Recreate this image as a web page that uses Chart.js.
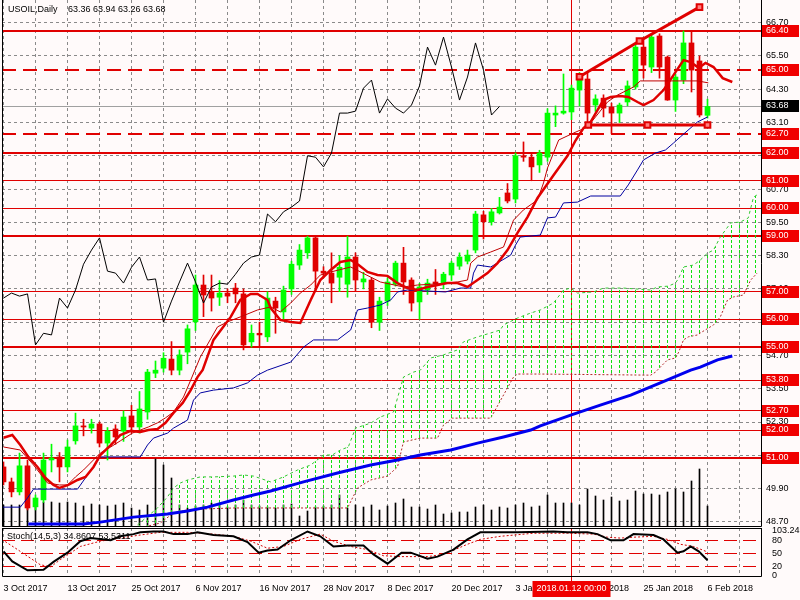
<!DOCTYPE html>
<html>
<head>
<meta charset="utf-8">
<script src="https://cdn.jsdelivr.net/npm/chart.js"></script>
<style>
  body { margin: 0; background: #fffafa; }
  #wrap { position: relative; width: 800px; height: 600px; background: #fffafa; overflow: hidden; }
  #main { position: absolute; left: 0; top: 0; }
  #osc { position: absolute; left: 0; top: 527px; }
</style>
</head>
<body>
<div id="wrap">
  <canvas id="main" width="800" height="527"></canvas>
  <canvas id="osc" width="800" height="73"></canvas>
</div>
<script>
// USOIL daily candles, bar 0 = 3 Oct 2017 ... bar 88 = 6 Feb 2018
const opens = [50.68,50.14,49.78,50.72,49.24,49.49,50.93,51.04,50.68,51.62,
  52.16,52.08,52.23,51.54,52.05,51.97,52.52,52.12,52.66,54.06,
  54.24,54.57,54.17,54.82,55.91,57.24,57.00,56.80,56.95,57.13,
  56.92,55.19,55.50,55.37,56.66,56.27,57.10,57.96,58.40,58.94,
  57.74,57.67,57.52,57.27,58.25,57.35,57.42,55.90,56.66,57.27,
  58.03,57.42,56.63,57.06,57.35,57.31,57.60,57.92,58.10,58.50,
  59.77,59.52,59.84,60.56,60.34,61.90,61.85,61.57,61.85,63.37,
  63.44,63.48,64.27,64.67,63.73,63.98,63.66,63.44,63.84,64.38,
  65.82,65.10,66.22,65.46,63.91,64.63,65.97,65.32,63.36];
const highs = [50.86,50.28,51.18,50.93,49.67,51.18,51.50,51.20,51.65,52.62,
  52.40,52.40,52.30,52.10,52.20,52.70,52.90,53.40,54.20,54.50,
  54.80,55.20,54.90,55.80,57.60,57.60,57.60,57.40,57.10,57.30,
  57.10,55.80,55.90,57.00,56.80,57.20,58.10,58.70,59.00,59.00,
  57.90,58.40,58.30,59.00,58.40,57.70,57.50,56.80,57.50,58.10,
  58.60,57.50,57.30,57.45,57.80,57.70,58.10,58.40,58.50,59.90,
  59.90,60.00,60.40,60.90,62.00,62.40,62.00,62.10,63.60,63.70,
  64.85,64.45,64.90,64.90,64.10,64.10,63.80,63.80,64.60,65.90,
  66.10,66.30,66.30,65.50,64.85,66.40,66.40,65.50,63.94];
const lows = [50.03,49.60,49.67,49.13,49.13,49.40,50.50,50.14,50.50,51.50,
  51.80,51.90,51.40,50.93,51.50,51.60,51.90,51.90,52.40,53.90,
  54.10,54.00,54.00,54.40,55.60,56.10,56.30,56.50,56.60,56.60,
  54.90,55.00,55.00,55.20,55.50,56.00,56.90,57.80,58.20,57.00,
  57.50,56.60,57.00,56.80,57.00,57.10,55.70,55.60,56.50,57.20,
  56.90,56.30,56.00,56.90,56.90,57.10,57.40,57.80,58.00,58.40,
  58.90,59.40,59.80,60.20,60.20,61.70,61.00,61.30,61.70,62.95,
  63.40,63.20,63.70,62.90,63.50,63.30,62.70,63.10,63.70,64.30,
  64.70,64.90,64.70,63.90,63.50,64.50,64.20,63.30,63.26];
const closes = [50.14,49.78,50.72,49.20,49.56,50.93,51.00,50.68,51.40,52.16,
  52.12,52.23,51.54,51.97,51.76,52.48,52.12,52.77,54.10,54.17,
  54.60,54.17,54.72,55.66,57.24,56.88,56.77,56.95,56.84,56.92,
  55.08,55.50,55.44,56.77,56.41,57.06,57.99,58.50,58.94,57.74,
  57.67,57.31,57.88,58.25,57.42,57.46,55.90,56.66,57.35,58.03,
  57.35,56.59,57.17,57.31,57.27,57.63,58.03,58.25,58.32,59.80,
  59.52,59.88,60.05,60.27,61.90,61.85,61.50,62.00,63.44,63.44,
  63.51,64.34,64.63,63.44,63.95,63.62,63.44,63.73,64.42,65.82,
  65.17,66.18,65.10,63.91,64.74,65.97,64.99,63.37,63.68];
// tick volume, arbitrary units
const volumes = [22,22,22,23,24,25,25,24,25,24,
  21,23,22,21,22,24,19,17,22,68,
  62,49,22,19,21,22,24,23,20,22,
  27,22,21,20,19,22,23,11,16,20,
  21,22,32,19,22,20,22,17,21,24,
  28,20,20,18,22,13,14,15,15,20,
  22,17,20,19,22,24,20,21,32,24,
  24,24,22,38,31,27,30,26,27,36,
  33,33,32,35,38,35,46,58,21];

// indicator lines, [bar, price]
const lips = [[0,51.73],[1.1,51.83],[2.1,51.47],[3.1,51.04],[4.25,50.68],[5.25,50.28],[6.25,50.03],[7,49.92],[8.1,50.03],[9.25,50.21],[10.25,50.32],[11.25,50.68],[12.1,51.11],[13.4,51.47],[14.6,51.83],[15.9,51.98],[17.1,51.94],[18.1,52.01],[19.25,52.05],[20.25,52.27],[21.25,52.63],[22.4,52.99],[23.4,53.45],[24.25,53.92],[24.9,54.18],[26.25,55.26],[28.4,56.09],[29.6,56.70],[30.9,56.92],[31.75,56.92],[33,56.70],[33.4,56.41],[34.6,55.98],[35.9,55.91],[37.1,55.87],[38.4,56.70],[39.6,57.42],[40.9,57.78],[42.1,58.07],[43.4,58.14],[44.4,57.96],[45.5,57.71],[46.75,57.60],[48,57.57],[49.25,57.31],[50.5,57.13],[51.75,57.06],[53,57.17],[54.25,57.24],[55.5,57.31],[56.75,57.31],[58,57.17],[59.25,57.42],[60.5,57.67],[61.75,58.03],[63,58.50],[64.25,59.12],[65.5,59.69],[66.75,60.38],[68.75,61.2],[70.5,61.9],[71.5,62.45],[72.5,62.90],[73.4,63.12],[74.25,63.55],[75,63.91],[75.9,64.02],[77.1,64.06],[78.1,64.02],[79.25,63.84],[80,63.73],[81.25,63.91],[82.5,64.27],[83.75,64.81],[85,65.35],[85.9,65.28],[86.9,65.07],[87.75,65.25],[88.75,65.10],[89.9,64.70],[91.1,64.56]];
const tenkan = [[0,51.4],[2.1,51.29],[3.75,50.75],[5.5,50.10],[7,50.03],[8,50.03],[9,50.32],[10,50.57],[12.1,51.18],[13.4,51.40],[14.6,51.62],[16.1,51.90],[17.1,52.01],[18.1,52.12],[19.25,52.27],[20.25,52.45],[21.25,52.66],[22.5,53.20],[23.4,53.81],[24.6,54.64],[26.75,55.73],[28,55.91],[29.6,56.09],[31.75,56.34],[33.4,56.45],[34.6,56.27],[35.9,56.59],[37.1,56.95],[38.4,57.24],[39.6,57.60],[40.9,57.71],[43.4,57.89],[47.1,57.35],[50,57.17],[51.75,57.24],[54.25,57.28],[56.75,57.35],[58,57.42],[58.4,58.03],[59.25,58.25],[60.9,58.43],[62.5,58.61],[63.75,59.58],[65,59.95],[66.75,60.31],[67.5,60.92],[68,61.46],[69.4,62.47],[71.25,62.72],[73,62.94],[75.5,63.84],[76.75,64.09],[78.75,64.38],[79.6,64.60],[86.75,64.60],[88.1,64.53]];
const kijun = [[-0.2,49.23],[2.1,49.23],[3,49.56],[3.75,49.88],[9.25,49.88],[12.1,51.04],[17.1,51.04],[18,51.47],[18.75,51.72],[20.5,51.90],[21.25,52.08],[23,52.37],[23.75,53.09],[24.6,53.35],[26.25,53.45],[28.75,53.53],[30.5,53.71],[31.75,53.99],[33,54.17],[35.9,54.46],[37.5,55.00],[38.75,55.26],[41.75,55.26],[43.4,55.62],[44.25,56.34],[45.5,56.41],[47.1,56.52],[48.4,56.70],[49.25,56.99],[50.5,57.06],[55.25,56.99],[57.1,57.13],[58.4,57.13],[58.75,57.67],[59.25,57.96],[60.9,57.89],[63.4,58.32],[64,58.68],[64.6,58.97],[67.1,59.04],[68,59.66],[69,59.69],[70,60.20],[71.75,60.23],[73.4,60.45],[77.1,60.45],[78.1,60.85],[79.25,61.39],[80,61.75],[81.5,62.0],[82.75,62.11],[83.75,62.36],[84.6,62.58],[86.75,63.12],[88,63.30]];
const spanA = [[16.75,48.59],[19.25,49.20],[20.5,49.60],[21.25,49.92],[22.1,50.10],[23,50.21],[24.6,50.32],[26.25,50.32],[28.75,50.35],[30,50.39],[31.25,50.35],[33.4,50.14],[35,50.32],[36.75,50.57],[38.4,50.75],[40,51.11],[41.1,51.11],[42.1,51.29],[43.1,51.40],[44,52.08],[45.9,52.26],[47.1,52.48],[48.75,52.66],[50,53.92],[51.25,54.10],[52.1,54.17],[53.4,54.61],[55,54.72],[56.75,54.90],[57.5,55.19],[59.25,55.37],[60.9,55.51],[62.1,55.62],[62.5,55.80],[64.25,56.05],[65.9,56.23],[67.1,56.34],[68.75,56.59],[70,57.06],[70.9,57.13],[71.75,56.95],[73.75,56.99],[75,57.13],[77.5,57.13],[80.9,57.06],[81.75,57.17],[83.1,57.20],[84,57.31],[84.4,57.49],[85,57.89],[86.25,57.96],[87.1,58.14],[88,58.39],[88.75,58.50],[89.6,58.97],[90.9,59.48],[92.1,59.51],[93.1,59.66],[93.75,60.41],[94.2,60.49]];
const spanB = [[16.75,48.45],[19.6,48.66],[21.25,49.02],[23,49.13],[24.6,49.16],[28.75,49.20],[43,49.20],[44.25,49.92],[45.9,50.21],[48,50.35],[49.25,50.68],[49.9,51.47],[50,51.58],[52.1,51.72],[54.25,51.72],[55,52.19],[56.1,52.44],[60.9,52.44],[63.75,53.92],[64.25,54.03],[67.1,54.03],[80.9,53.99],[81.5,54.10],[82.1,54.28],[83,54.54],[84,54.61],[84.4,54.82],[85,55.26],[85.6,55.37],[86.75,55.44],[87.1,55.51],[88.75,55.80],[89.6,56.09],[90.5,56.70],[91.25,56.81],[92.5,56.88],[93.4,57.42],[94.2,57.67]];
const slowMa = [[3.1,48.62],[10,48.62],[12.1,48.69],[16.25,48.87],[20.5,48.98],[23,49.09],[25.5,49.23],[28.75,49.49],[31.25,49.67],[33.4,49.81],[37.5,50.14],[41.75,50.46],[45.9,50.75],[49.25,50.93],[52.1,51.11],[55.9,51.29],[59.25,51.54],[62.5,51.76],[65.9,52.01],[67.1,52.16],[70.9,52.55],[74.6,52.91],[78.4,53.27],[82.1,53.71],[85.9,54.17],[87.1,54.28],[89.25,54.54],[91.1,54.68]];
const chikouShift = 26;

// drawn objects
const trendUp = [[72,64.75],[79.5,66.04],[87,67.26]];
const trendFlat = [[73.1,63.01],[80.5,63.01],[88,63.01]];
const levelsThick = [66.40, 62.00, 59.00, 55.00, 51.00];
const levelsThin = [61.00, 60.00, 57.00, 56.00, 53.80, 52.70, 52.00];
const levelsDash = [65.00, 62.70];
const lastPrice = 63.68;
const crossBar = 71;
const crossLabel = '2018.01.12 00:00';

// stochastic (14,5,3)
const stochMain = [[0,55],[1.1,32],[3,12],[5,13],[6.25,31],[8,52],[9.6,78],[10.9,85],[13.4,80],[14.6,89],[16.25,94],[17.1,98],[18.75,100],[20,100],[21.25,94],[23,94],[24.25,98],[26.25,92],[28.75,89],[30.5,76],[31.9,52],[33,57],[34.25,59],[35.9,80],[38,100],[39.6,89],[41.25,66],[43,68],[45,68],[46.25,48],[48,27],[49.75,52],[50.9,52],[53,38],[54.25,43],[56.25,59],[58,82],[59.6,98],[62.1,98],[64.25,98],[68.75,100],[70.5,98],[73,98],[74.25,94],[75.9,80],[77.5,80],[78.75,94],[81.25,92],[82.5,82],[84.25,52],[85,55],[85.9,66],[86.9,55],[88,34.8607]];
const stochSignal = [[-0.2,82],[1.75,59],[4.6,24.5],[5.9,20],[7.1,36],[9.6,66],[12.1,78],[14.6,85],[17.1,92],[19.6,98],[23,98],[26.25,94],[28.75,89],[30.9,78],[33,62],[35,66],[37.1,82],[39.6,94],[41.25,78],[43.4,66],[45.5,59],[47.5,45],[49.6,43],[53,43],[55,48],[58,71],[59.6,82],[62.1,89],[66.25,96],[70.5,96],[73.75,94],[75.5,87],[77.1,85],[78.75,87],[81.25,89],[83,82],[84.6,71],[86.25,66],[88,53.5311]];
const stochLevels = [20, 50, 80];
const stochTicks = [0, 20, 50, 80, 103.2423];

const priceTicks = [48.70,49.90,51.10,52.30,53.50,54.70,55.90,57.10,58.30,59.50,60.70,61.90,63.10,64.30,65.50,66.70];
const dateLabels = ['3 Oct 2017','13 Oct 2017','25 Oct 2017','6 Nov 2017','16 Nov 2017','28 Nov 2017','8 Dec 2017','20 Dec 2017','3 Jan 2018','15 Jan 2018','25 Jan 2018','6 Feb 2018'];

const FONT = '"Liberation Sans", Arial, sans-serif';
const RED = '#e00000';
const BOX_RED = '#f00000';
const GREEN = '#00ff00';
const GRID = '#8a8a8a';
Chart.defaults.font.family = FONT;
Chart.defaults.font.size = 9;
Chart.defaults.color = '#000';

const xMin = -0.1875, xMax = 94.6875;
const gridBars = [];
for (let i = 0; i <= 92; i += 4) gridBars.push(i);
const pts = arr => arr.map(([x, y]) => ({x, y}));
const candleColor = opens.map((o, i) => closes[i] >= o ? GREEN : RED);

// kumo hatching: a 1px dashed green column per bar (bars sit at x = 3 + 8n)
function hatch() {
  const c = document.createElement('canvas');
  c.width = 8; c.height = 5;
  const g = c.getContext('2d');
  g.fillStyle = '#10e010';
  g.fillRect(3, 0, 1, 3);
  return g.createPattern(c, 'repeat');
}

function hline(ctx, a, py, w, dash, color) {
  const yy = w % 2 ? Math.floor(py) + 0.5 : Math.round(py);
  ctx.save();
  ctx.lineWidth = w; ctx.strokeStyle = color; ctx.setLineDash(dash);
  ctx.beginPath(); ctx.moveTo(a.left, yy); ctx.lineTo(a.right, yy); ctx.stroke();
  ctx.restore();
}
function vline(ctx, px, y0, y1, color) {
  const xx = Math.floor(px) + 0.5;
  ctx.save();
  ctx.lineWidth = 1; ctx.strokeStyle = color; ctx.setLineDash([]);
  ctx.beginPath(); ctx.moveTo(xx, y0); ctx.lineTo(xx, y1); ctx.stroke();
  ctx.restore();
}
function axisBox(ctx, a, py, text, color) {
  const yy = Math.round(py);
  ctx.save();
  ctx.fillStyle = color;
  ctx.fillRect(a.right + 1, yy - 6, 37, 12);
  ctx.fillStyle = '#fff';
  ctx.font = '9px ' + FONT; ctx.textAlign = 'left'; ctx.textBaseline = 'middle';
  ctx.fillText(text, a.right + 5, yy);
  ctx.restore();
}
function frame(ctx, a, top) {
  ctx.save();
  ctx.strokeStyle = '#000'; ctx.lineWidth = 1; ctx.setLineDash([]);
  ctx.beginPath();
  if (top) { ctx.moveTo(a.left, a.top + 0.5); ctx.lineTo(a.right + 1, a.top + 0.5); }
  ctx.moveTo(a.left + 0.5, a.top); ctx.lineTo(a.left + 0.5, a.bottom - 0.5);
  ctx.lineTo(a.right + 0.5, a.bottom - 0.5); ctx.lineTo(a.right + 0.5, a.top);
  ctx.stroke();
  ctx.restore();
}
function label(ctx, text, x, y) {
  ctx.save();
  ctx.fillStyle = '#000'; ctx.font = '9px ' + FONT;
  ctx.textAlign = 'left'; ctx.textBaseline = 'middle';
  ctx.fillText(text, x, y);
  ctx.restore();
}

const mainOverlay = {
  id: 'mainOverlay',
  beforeDatasetsDraw(chart) {
    const {ctx, chartArea: a, scales: {x, y}} = chart;
    hline(ctx, a, y.getPixelForValue(lastPrice), 1, [], '#a0a0a0');
    levelsThin.forEach(v => hline(ctx, a, y.getPixelForValue(v), 1, [], RED));
    levelsThick.forEach(v => hline(ctx, a, y.getPixelForValue(v), 2, [], RED));
    levelsDash.forEach(v => hline(ctx, a, y.getPixelForValue(v), 2, [14, 7], RED));
    vline(ctx, x.getPixelForValue(crossBar), a.top, a.bottom, RED);
  },
  afterDraw(chart) {
    const {ctx, chartArea: a, scales: {y}} = chart;
    [...levelsThick, ...levelsThin, ...levelsDash].forEach(v =>
      axisBox(ctx, a, y.getPixelForValue(v), v.toFixed(2), BOX_RED));
    axisBox(ctx, a, y.getPixelForValue(lastPrice), lastPrice.toFixed(2), '#000');
    frame(ctx, a, false);
    const n = closes.length - 1;
    label(ctx, 'USOIL,Daily', 8, 10);
    label(ctx, [opens[n], highs[n], lows[n], closes[n]].map(v => v.toFixed(2)).join(' '), 68, 10);
  }
};

const oscOverlay = {
  id: 'oscOverlay',
  beforeDatasetsDraw(chart) {
    const {ctx, chartArea: a, scales: {x, y}} = chart;
    stochLevels.forEach(v => hline(ctx, a, y.getPixelForValue(v), 1, [13, 6], RED));
    vline(ctx, x.getPixelForValue(crossBar), a.top, a.bottom + 4, RED);
  },
  afterDraw(chart) {
    const {ctx, chartArea: a, scales: {x}} = chart;
    frame(ctx, a, true);
    const n = stochMain.length - 1;
    label(ctx, 'Stoch(14,5,3) ' + stochMain[n][1].toFixed(4) + ' ' + stochSignal[stochSignal.length - 1][1].toFixed(4), 7, 10);
    const cx = Math.floor(x.getPixelForValue(crossBar)) + 0.5;
    ctx.save();
    ctx.fillStyle = BOX_RED;
    ctx.fillRect(cx - 39, a.bottom + 4, 78, 16);
    ctx.fillStyle = '#fff'; ctx.font = '9px ' + FONT;
    ctx.textAlign = 'center'; ctx.textBaseline = 'middle';
    ctx.fillText(crossLabel, cx, a.bottom + 12);
    ctx.restore();
  }
};

const xScale = (labels) => ({
  type: 'linear', min: xMin, max: xMax, offset: false,
  afterBuildTicks: s => { s.ticks = gridBars.map(v => ({value: v})); },
  ticks: labels
    ? {display: true, autoSkip: false, maxRotation: 0, align: 'start', padding: 6,
       callback: v => v % 8 === 0 ? dateLabels[v / 8] : ''}
    : {display: false},
  grid: {color: GRID, drawTicks: false, offset: false},
  border: {display: false, dash: [3, 3]},
  afterFit: s => { s.height = labels ? 23 : 0; s.paddingLeft = 0; s.paddingRight = 0; }
});

const line = (arr, color, width, order, dash) => ({
  type: 'line', data: pts(arr), borderColor: color, borderWidth: width,
  borderDash: dash || [], pointRadius: 0, fill: false, tension: 0, order
});

new Chart(document.getElementById('main'), {
  type: 'line',
  data: {
    datasets: [
      {type: 'line', data: pts(trendUp), borderColor: RED, borderWidth: 3, pointStyle: 'rect',
        pointRadius: 4, pointBackgroundColor: '#ff8080', pointBorderColor: RED, pointBorderWidth: 2, order: 0},
      {type: 'line', data: pts(trendFlat), borderColor: RED, borderWidth: 3, pointStyle: 'rect',
        pointRadius: 4, pointBackgroundColor: '#ff8080', pointBorderColor: RED, pointBorderWidth: 2, order: 0},
      line(lips, RED, 2.5, 1),
      line(tenkan, '#c00000', 1, 2),
      line(kijun, '#0000a0', 1, 3),
      line(closes.map((c, i) => [i - chikouShift, c]), '#000', 1, 4),
      line(slowMa, '#0000ee', 3, 5),
      Object.assign(line(spanA, '#30c830', 1, 6, [3, 3]), {fill: '+1', backgroundColor: hatch()}),
      line(spanB, '#b02828', 1, 7, [2, 2]),
      {type: 'bar', data: opens.map((o, i) => ({x: i, y: [o, closes[i]]})), backgroundColor: candleColor,
        barThickness: 5, grouped: false, minBarLength: 1, borderWidth: 0, order: 8},
      {type: 'bar', data: lows.map((l, i) => ({x: i, y: [l, highs[i]]})), backgroundColor: candleColor,
        barThickness: 1, grouped: false, borderWidth: 0, order: 9},
      {type: 'bar', yAxisID: 'yv', data: volumes.map((v, i) => ({x: i, y: v})), backgroundColor: '#000',
        barThickness: 1, grouped: false, borderWidth: 0, order: 10}
    ]
  },
  options: {
    responsive: false, animation: false, devicePixelRatio: 1,
    layout: {autoPadding: false, padding: {left: 2, top: 0, right: 0, bottom: 0}},
    plugins: {legend: {display: false}, tooltip: {enabled: false}},
    scales: {
      x: xScale(false),
      y: {
        position: 'right', min: 48.514, max: 67.518,
        afterBuildTicks: s => { s.ticks = priceTicks.map(v => ({value: v})); },
        ticks: {autoSkip: false, padding: 5, callback: v => v.toFixed(2)},
        grid: {color: GRID, drawTicks: false},
        border: {display: false, dash: [3, 3]},
        afterFit: s => { s.width = 39; s.paddingTop = 0; s.paddingBottom = 0; }
      },
      yv: {display: false, min: 0, max: 527}
    }
  },
  plugins: [mainOverlay]
});

new Chart(document.getElementById('osc'), {
  type: 'line',
  data: {
    datasets: [
      line(stochMain, '#000', 2, 0),
      line(stochSignal, '#d00000', 1, 1, [2, 2])
    ]
  },
  options: {
    responsive: false, animation: false, devicePixelRatio: 1,
    layout: {autoPadding: false, padding: {left: 2, top: 1, right: 0, bottom: 0}},
    plugins: {legend: {display: false}, tooltip: {enabled: false}},
    scales: {
      x: xScale(true),
      y: {
        position: 'right', min: -3.24, max: 107.87,
        afterBuildTicks: s => { s.ticks = stochTicks.map(v => ({value: v})); },
        ticks: {autoSkip: false, padding: 3, callback: v => String(v)},
        grid: {display: false},
        border: {display: false},
        afterFit: s => { s.width = 39; s.paddingTop = 0; s.paddingBottom = 0; }
      }
    }
  },
  plugins: [oscOverlay]
});
</script>
</body>
</html>
